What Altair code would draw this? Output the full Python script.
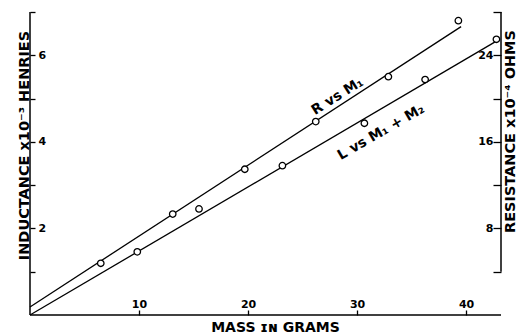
import altair as alt
import pandas as pd

# ---- data ----
r_mass = [6.49, 13.09, 19.70, 26.21, 32.87, 39.29]
r_res = [4.78, 9.33, 13.47, 17.87, 22.02, 27.20]
l_mass = [9.84, 15.50, 23.15, 30.67, 36.24, 42.78]
l_ind = [1.46, 2.45, 3.45, 4.43, 5.44, 6.37]

r_fit_mass = [0.0, 39.54]
r_fit_res = [0.74, 26.65]
l_fit_mass = [0.0, 42.66]
l_fit_ind = [0.0, 6.31]

r_label = ["R vs M\u2081"]
r_label_mass = [28.2]
r_label_res = [20.2]
l_label = ["L vs M\u2081 + M\u2082"]
l_label_mass = [32.2]
l_label_ind = [4.22]

x_ticks = [10, 20, 30, 40]
l_ticks = [1, 2, 3, 4, 5, 6, 7]
r_ticks = [4, 8, 12, 16, 20, 24, 28]

X_DOMAIN = [0, 43.2]
L_DOMAIN = [0, 7]
R_DOMAIN = [0, 28]

FONT = "DejaVu Sans"
W, H = 471, 303

xscale = alt.Scale(domain=X_DOMAIN, nice=False, zero=False)
lscale = alt.Scale(domain=L_DOMAIN, nice=False)
rscale = alt.Scale(domain=R_DOMAIN, nice=False)

xaxis = alt.Axis(
    orient="bottom", values=x_ticks, domain=False, grid=False,
    ticks=True, tickSize=5, offset=-5, tickColor="black", tickWidth=1.3,
    labelPadding=-8, labelBaseline="alphabetic", labelFont=FONT,
    labelFontSize=11, labelFontWeight="bold", labelColor="black",
    title="MASS \u026a\u0274 GRAMS", titleFont=FONT, titleFontSize=14,
    titleFontWeight="bold", titleColor="black", titleX=245, titleY=21,
    titleBaseline="alphabetic", titleAlign="center",
)
laxis = alt.Axis(
    orient="left", values=l_ticks,
    labelExpr="datum.value % 2 == 0 ? datum.label : ''",
    domain=False, grid=False, ticks=True, tickSize=5, offset=-5,
    tickColor="black", tickWidth=1.3,
    labelPadding=-8, labelAlign="left", labelBaseline="middle",
    labelFont=FONT, labelFontSize=11, labelFontWeight="bold", labelColor="black",
    title="INDUCTANCE  x10\u207b\u00b3 HENRIES", titleFont=FONT, titleFontSize=14.5,
    titleFontWeight="bold", titleColor="black", titleAngle=270,
    titleX=-11, titleY=133, titleAlign="center", titleBaseline="middle",
)
raxis = alt.Axis(
    orient="right", values=r_ticks,
    labelExpr="datum.value % 8 == 0 ? datum.label : ''",
    domain=False, grid=False, ticks=True, tickSize=8, offset=-8,
    tickColor="black", tickWidth=1.3,
    labelPadding=-8, labelAlign="right", labelBaseline="middle",
    labelFont=FONT, labelFontSize=11, labelFontWeight="bold", labelColor="black",
    title="RESISTANCE  x10\u207b\u2074 OHMS", titleFont=FONT, titleFontSize=14.5,
    titleFontWeight="bold", titleColor="black", titleAngle=270,
    titleX=17, titleY=119, titleAlign="center", titleBaseline="middle",
)


def X(field):
    return alt.X(field, type="quantitative", scale=xscale, axis=xaxis)


def YL(field):
    return alt.Y(field, type="quantitative", scale=lscale, axis=laxis)


def YR(field):
    return alt.Y(field, type="quantitative", scale=rscale, axis=raxis)


one = pd.DataFrame({"k": [0]})

# ---- inductance group (left scale) ----
l_fit_df = pd.DataFrame({"m": l_fit_mass, "v": l_fit_ind})
l_pts_df = pd.DataFrame({"m": l_mass, "v": l_ind})
l_lab_df = pd.DataFrame({"m": l_label_mass, "v": l_label_ind, "t": l_label})

l_line = alt.Chart(l_fit_df).mark_line(color="black", strokeWidth=1.3).encode(
    x=X("m"), y=YL("v"))
l_pts = alt.Chart(l_pts_df).mark_point(
    shape="circle", size=42, filled=True, fill="white", stroke="black",
    strokeWidth=1.3, opacity=1).encode(x=X("m"), y=YL("v"))
l_txt = alt.Chart(l_lab_df).mark_text(
    font=FONT, fontSize=14, fontWeight="bold", angle=330, align="center",
    baseline="middle", color="black").encode(x=X("m"), y=YL("v"), text="t")
left_rule = alt.Chart(one).mark_rule(color="black", strokeWidth=1.5).encode(
    x=alt.XDatum(X_DOMAIN[0], type="quantitative", scale=xscale, axis=xaxis),
    y=alt.YDatum(L_DOMAIN[0], type="quantitative", scale=lscale, axis=laxis),
    y2=alt.Y2Datum(L_DOMAIN[1]))
bottom_rule = alt.Chart(one).mark_rule(color="black", strokeWidth=1.5).encode(
    x=alt.XDatum(X_DOMAIN[0], type="quantitative", scale=xscale, axis=xaxis),
    x2=alt.X2Datum(X_DOMAIN[1]),
    y=alt.YDatum(L_DOMAIN[0], type="quantitative", scale=lscale, axis=laxis))

left_group = alt.layer(l_line, l_pts, l_txt, left_rule, bottom_rule)

# ---- resistance group (right scale) ----
r_fit_df = pd.DataFrame({"m": r_fit_mass, "v": r_fit_res})
r_pts_df = pd.DataFrame({"m": r_mass, "v": r_res})
r_lab_df = pd.DataFrame({"m": r_label_mass, "v": r_label_res, "t": r_label})

r_line = alt.Chart(r_fit_df).mark_line(color="black", strokeWidth=1.3).encode(
    x=X("m"), y=YR("v"))
r_pts = alt.Chart(r_pts_df).mark_point(
    shape="circle", size=42, filled=True, fill="white", stroke="black",
    strokeWidth=1.3, opacity=1).encode(x=X("m"), y=YR("v"))
r_txt = alt.Chart(r_lab_df).mark_text(
    font=FONT, fontSize=14, fontWeight="bold", angle=328, align="center",
    baseline="middle", color="black").encode(x=X("m"), y=YR("v"), text="t")
right_rule = alt.Chart(one).mark_rule(color="black", strokeWidth=1.5).encode(
    x=alt.XDatum(X_DOMAIN[1], type="quantitative", scale=xscale, axis=xaxis),
    y=alt.YDatum(r_ticks[0], type="quantitative", scale=rscale, axis=raxis),
    y2=alt.Y2Datum(R_DOMAIN[1]))

right_group = alt.layer(r_line, r_pts, r_txt, right_rule)

chart = alt.layer(left_group, right_group).resolve_scale(
    y="independent"
).properties(
    width=W, height=H,
    autosize=alt.AutoSizeParams(type="none"),
    padding={"left": 30, "top": 12, "right": 17, "bottom": 20},
    background="white",
).configure_view(stroke=None)

chart.save("out.html", embed_options={"renderer": "svg", "actions": False})
